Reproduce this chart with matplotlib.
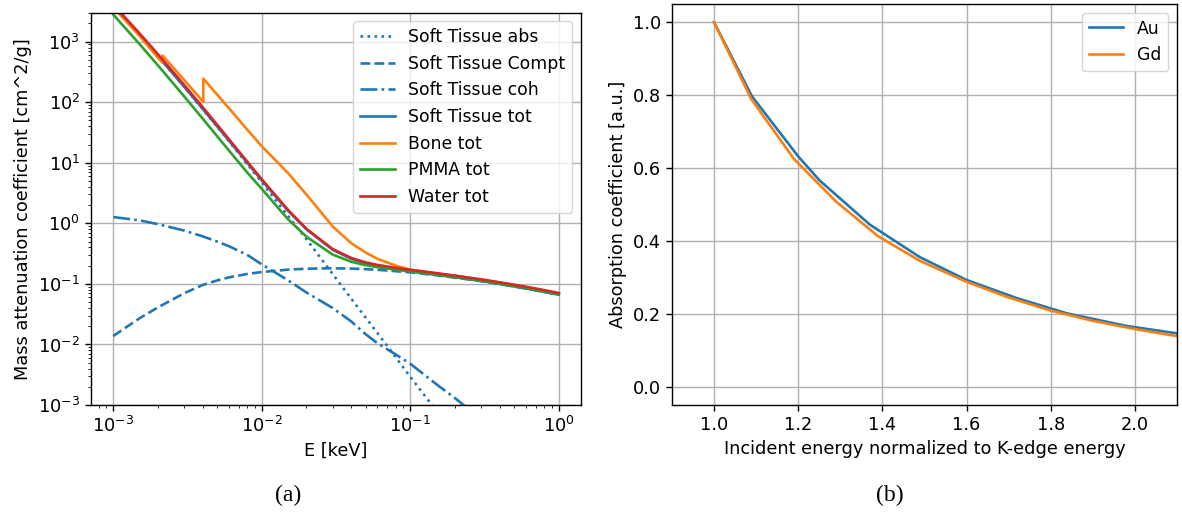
import numpy as np
import matplotlib
matplotlib.use('Agg')
import matplotlib.pyplot as plt

##### 数据 (a): 质量衰减系数

E = np.array([1, 1.5, 2, 3, 4, 5, 6, 8, 10, 15, 20, 30, 40, 50, 60, 80,
              100, 150, 200, 300, 400, 500, 600, 800, 1000]) * 1e-3

st_abs = [3800, 1280, 575, 180, 77, 39.5, 22.8, 9.5, 4.75, 1.33, 0.545, 0.146,
          0.057, 0.0278, 0.0155, 0.0061, 0.00292, 0.0008, 0.00032, 9.0e-5,
          3.9e-5, 2.1e-5, 1.35e-5, 7e-6, 4.5e-6]
st_compt = [0.0138, 0.027, 0.041, 0.070, 0.096, 0.114, 0.128, 0.146, 0.157,
            0.172, 0.178, 0.181, 0.179, 0.175, 0.171, 0.162, 0.155, 0.139,
            0.127, 0.111, 0.0995, 0.0907, 0.0839, 0.0736, 0.0662]
st_coh = [1.27, 1.12, 0.97, 0.76, 0.61, 0.50, 0.42, 0.30, 0.21, 0.115, 0.072,
          0.040, 0.024, 0.0148, 0.0105, 0.0068, 0.0048, 0.0022, 0.0013,
          0.00058, 0.00033, 0.00021, 0.00015, 8.3e-5, 5.3e-5]
st_tot = [3801, 1281, 576, 180.8, 77.7, 40.1, 23.35, 9.95, 5.12, 1.62, 0.795,
          0.367, 0.26, 0.218, 0.197, 0.175, 0.163, 0.141, 0.129, 0.112,
          0.0998, 0.0909, 0.0841, 0.0738, 0.0663]
pmma_tot = [2794, 915, 405, 125, 53.5, 27.5, 16.0, 6.85, 3.7, 1.17, 0.60,
            0.305, 0.232, 0.204, 0.189, 0.172, 0.161, 0.142, 0.130, 0.113,
            0.101, 0.0922, 0.0853, 0.0749, 0.0673]
water_tot = [4078, 1376, 617.3, 192.9, 82.78, 42.58, 24.64, 10.37, 5.329,
             1.673, 0.8096, 0.3756, 0.2683, 0.2269, 0.2059, 0.1837, 0.1707,
             0.1505, 0.1370, 0.1186, 0.1061, 0.09687, 0.08956, 0.07865, 0.07072]

# 骨 (含 P, Ca K 吸收边)
E_bone = np.array([1, 1.5, 2, 2.1455, 2.1455, 3, 4, 4.0381, 4.0381, 5, 6, 8,
                   10, 15, 20, 30, 40, 50, 60, 80, 100, 150, 200, 300, 400,
                   500, 600, 800, 1000]) * 1e-3
bone_tot = [3700, 1250, 540, 450, 590, 233, 104, 102, 245, 134, 80, 35, 18.7,
            6.8, 2.98, 0.89, 0.47, 0.33, 0.26, 0.20, 0.172, 0.148, 0.136,
            0.118, 0.105, 0.096, 0.089, 0.078, 0.069]

##### 数据 (b): 归一化吸收系数
x_au = [1.0, 1.09, 1.2, 1.25, 1.37, 1.49, 1.6, 1.72, 1.84, 1.98, 2.1, 2.2]
y_au = [1.0, 0.797, 0.632, 0.567, 0.445, 0.355, 0.293, 0.243, 0.201, 0.167,
        0.1465, 0.13]
x_gd = [1.0, 1.088, 1.19, 1.29, 1.39, 1.49, 1.6, 1.7, 1.8, 1.9, 2.0, 2.1, 2.2]
y_gd = [1.0, 0.79, 0.625, 0.508, 0.413, 0.345, 0.288, 0.245, 0.209, 0.181,
        0.1585, 0.139, 0.122]

#### 画图
plt.rcParams['font.size'] = 12.8
plt.rcParams['legend.fontsize'] = 12.4
plt.rcParams['lines.linewidth'] = 1.9
plt.rcParams['axes.linewidth'] = 1.0
plt.rcParams['grid.linewidth'] = 1.0
plt.rcParams['xtick.major.size'] = 4.4
plt.rcParams['ytick.major.size'] = 4.4
plt.rcParams['xtick.minor.size'] = 2.5
plt.rcParams['ytick.minor.size'] = 2.5
plt.rcParams['xtick.major.width'] = 1.0
plt.rcParams['ytick.major.width'] = 1.0

fig = plt.figure(figsize=(11.82, 5.23), dpi=100)
ax1 = fig.add_axes([0.077, 0.2256, 0.4146, 0.750])
ax2 = fig.add_axes([0.5685, 0.2256, 0.4272, 0.7667])

c0 = 'tab:blue'
ax1.loglog(E, st_abs, ':', color=c0, label='Soft Tissue abs')
ax1.loglog(E, st_compt, '--', color=c0, label='Soft Tissue Compt')
ax1.loglog(E, st_coh, '-.', color=c0, label='Soft Tissue coh')
ax1.loglog(E, st_tot, '-', color=c0, label='Soft Tissue tot')
ax1.loglog(E_bone, bone_tot, color='tab:orange', label='Bone tot')
ax1.loglog(E, pmma_tot, color='tab:green', label='PMMA tot')
ax1.loglog(E, water_tot, color='tab:red', label='Water tot')
ax1.set_ylim(1e-3, 3e3)
ax1.grid(True)
ax1.set_xlabel('E [keV]')
ax1.set_ylabel('Mass attenuation coefficient [cm^2/g]')
ax1.legend(loc='upper right')

ax2.plot(x_au, y_au, label='Au')
ax2.plot(x_gd, y_gd, label='Gd')
ax2.set_xlim(0.9, 2.1)
ax2.set_ylim(-0.05, 1.05)
ax2.grid(True)
ax2.set_xlabel('Incident energy normalized to K-edge energy')
ax2.set_ylabel('Absorption coefficient [a.u.]')
ax2.legend(loc='upper right')

fig.text(0.2437, 0.052, '(a)', ha='center', va='center',
         family=['Liberation Serif', 'DejaVu Serif'], fontsize=17)
fig.text(0.753, 0.052, '(b)', ha='center', va='center',
         family=['Liberation Serif', 'DejaVu Serif'], fontsize=17)

plt.savefig('out.png', dpi=100)
